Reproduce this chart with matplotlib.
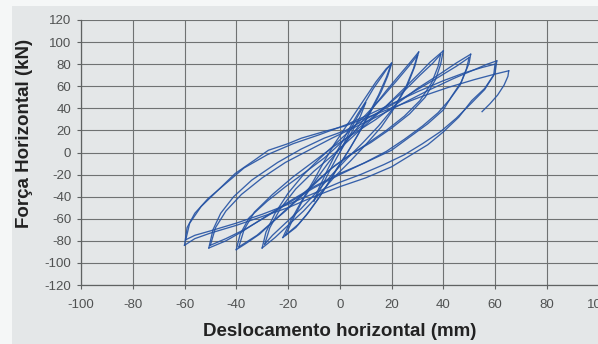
#hysteresis curve - force vs horizontal displacement
import numpy as np
import matplotlib.pyplot as plt
from matplotlib.patches import Rectangle

plt.rcParams['font.family'] = ['Liberation Sans', 'DejaVu Sans']
plt.rcParams['axes.unicode_minus'] = False

#cycle branches (displacement mm, force kN)
start = [(0, 0), (4, 20), (7, 33), (10, 45)]
c10_down = [(10, 45), (8, 33), (5, 20), (2, 8), (-1, -4), (-4, -17), (-7, -31), (-10, -44)]
c10_up = [(-10, -44), (-8, -32), (-5, -17), (-2, -3), (1, 10), (4, 23), (7, 35), (10, 46),
          (13, 58), (16, 68), (18, 75), (20, 81)]
c20a_down = [(20, 81), (18, 68), (15, 52), (11, 34), (7, 16), (3, 0), (-1, -14), (-5, -30),
             (-9, -44), (-13, -57), (-17, -68), (-22, -77)]
c20a_up = [(-22, -77), (-19, -62), (-15, -45), (-10, -25), (-6, -8), (-2, 8), (2, 22), (6, 36),
           (10, 50), (14, 64), (18, 76), (20, 80)]
c20b_down = [(20, 80), (18.5, 69), (16, 55), (12, 37), (8, 20), (4, 4), (0, -11), (-4, -26),
             (-8, -41), (-12, -54), (-16, -65), (-21, -75)]
c30a_load = [(-21, -75), (-18, -60), (-14, -42), (-9, -24), (-4, -8), (1, 6), (6, 20), (12, 38),
             (18, 56), (23, 70), (27, 81), (30.5, 91)]
c30a_down = [(30.5, 91), (29, 78), (26, 60), (21, 40), (16, 23), (10, 7), (4, -8), (-2, -22),
             (-8, -38), (-14, -53), (-20, -66), (-25, -77), (-30, -86.5)]
c30a_up = [(-30, -86.5), (-28.5, -72), (-25, -55), (-20, -37), (-14, -20), (-8, -6), (-2, 7),
           (4, 20), (10, 34), (16, 49), (22, 65), (27, 79), (30, 88)]
c30b_down = [(30, 88), (28.5, 76), (25.5, 59), (21, 41), (15, 24), (9, 9), (3, -5), (-3, -20),
             (-9, -36), (-15, -51), (-21, -64), (-26, -75), (-29, -83)]
c40a_load = [(-29, -83), (-27, -68), (-23, -51), (-17, -33), (-10, -17), (-3, -3), (3, 10),
             (10, 25), (17, 40), (24, 56), (30, 70), (35, 82), (40, 92)]
c40a_down = [(40, 92), (39, 80), (37, 66), (33, 50), (27, 35), (20, 22), (12, 9), (4, -2),
             (-2, -12), (-8, -24), (-14, -37), (-20, -50), (-26, -63), (-31, -74), (-36, -82),
             (-40, -88)]
c40a_up = [(-40, -88), (-38.5, -74), (-35, -59), (-28, -44), (-21, -31), (-14, -19), (-6, -5),
           (2, 12), (10, 27), (18, 42), (25, 56), (31, 70), (36, 81), (39, 89)]
c40b_down = [(39, 89), (38, 78), (35.5, 63), (31, 47), (25, 33), (18, 20), (10, 7), (3, -4),
             (-3, -14), (-9, -27), (-15, -40), (-21, -53), (-27, -65), (-32, -75), (-36, -81),
             (-39, -85.5)]
c50a_load = [(-39, -85.5), (-37, -70), (-33, -54), (-26, -38), (-18, -22), (-10, -8), (-2, 6),
             (6, 18), (14, 30), (22, 44), (30, 58), (38, 70), (45, 81), (50.6, 89)]
c50a_down = [(50.6, 89), (50, 81), (47, 64), (43, 50), (40, 38.5), (34, 26), (27, 14), (20, 2),
             (10, -9), (0, -19), (-10, -31), (-20, -45), (-30, -60), (-38, -72), (-44, -80),
             (-50.6, -86.5)]
c50a_up = [(-50.6, -86.5), (-49, -70), (-46, -55), (-41, -40), (-34, -25), (-24, -9), (-15, 3),
           (-6, 13), (2.3, 20), (10, 30), (20, 43), (30, 57), (38, 68), (45, 78), (50, 86)]
c50b_down = [(50, 86), (49, 76), (46.5, 61), (42.5, 48), (38, 36), (32, 24), (25, 12), (18, 1),
             (9, -10), (0, -20), (-10, -32), (-20, -46), (-29, -59), (-37, -70), (-44, -78),
             (-50, -84)]
c60a_load = [(-50, -84), (-48, -68), (-44, -53), (-38, -38), (-30, -23), (-21, -9), (-12, 2),
             (-3, 13), (5, 22), (14, 32), (24, 44), (34, 56), (44, 67), (52, 75), (57, 80),
             (60.7, 83)]
c60a_down = [(60.7, 83), (60, 72), (56, 58), (51, 47), (46, 32), (40, 18.6), (34, 7), (27, -3),
             (20, -13), (10, -23), (0, -31), (-10, -40), (-20, -50), (-30, -58), (-40, -66),
             (-50, -73), (-56, -78), (-60, -84)]
c60a_up = [(-60, -84), (-59, -68), (-56, -55), (-51, -42), (-44, -28), (-37, -14), (-28, -2),
           (-18, 8), (-8, 16), (2.3, 25), (10, 33), (20, 44), (30, 55), (40, 65), (48, 72),
           (55, 77), (60, 80)]
c60b_down = [(60, 80), (59.5, 70), (56, 57), (51, 45), (45, 31), (39, 19), (32, 8), (25, -2),
             (17, -11), (8, -20), (0, -27), (-10, -37), (-20, -47), (-30, -56), (-40, -64),
             (-50, -71), (-56, -75), (-59.5, -79)]
final_up = [(-59.5, -79), (-58, -64), (-53.6, -49), (-47, -34), (-40.4, -19), (-33, -7),
            (-27.6, 2), (-20, 8), (-14.8, 13), (-6, 19), (2, 24), (12, 33), (22, 42), (32, 51),
            (42, 59), (52, 66), (60, 71), (65.3, 74)]
tail = [(65.3, 74), (65, 69), (63.5, 61), (61, 52), (58, 44), (55, 37)]

branches = [start, c10_down, c10_up, c20a_down, c20a_up, c20b_down, c30a_load, c30a_down,
            c30a_up, c30b_down, c40a_load, c40a_down, c40a_up, c40b_down, c50a_load,
            c50a_down, c50a_up, c50b_down, c60a_load, c60a_down, c60a_up, c60b_down,
            final_up, tail]

xticks = list(range(-100, 101, 20))
yticks = list(range(-120, 121, 20))

fig = plt.figure(figsize=(5.98, 3.44), dpi=100)
fig.patch.set_facecolor('#f5f7f7')
#grey paper area behind the chart
fig.patches.append(Rectangle((12 / 598, 0), 1, 338 / 344, transform=fig.transFigure,
                             facecolor='#e4e7e8', edgecolor='none', zorder=-5))

ax = fig.add_axes([81 / 598, 59 / 344, 517.5 / 598, 265 / 344])
ax.set_facecolor('#e4e7e8')

for b in branches:
    pts = np.array(b)
    ax.plot(pts[:, 0], pts[:, 1], color='#2452a3', lw=0.95, alpha=0.9, zorder=3)

ax.set_xlim(-100, 100)
ax.set_ylim(-120, 120)
ax.set_xticks(xticks)
ax.set_yticks(yticks)
ax.grid(True, color='#6f7272', lw=0.8)
ax.set_axisbelow(True)
for s in ['top', 'right']:
    ax.spines[s].set_visible(False)
for s in ['left', 'bottom']:
    ax.spines[s].set_color('#5f6262')
    ax.spines[s].set_linewidth(0.9)
ax.tick_params(axis='both', colors='#5f6262', length=3, width=0.8, labelsize=9.5,
               labelcolor='#505252')
ax.tick_params(axis='x', pad=7)
ax.tick_params(axis='y', pad=4)

fig.text(25 / 598, 1 - 133 / 344, 'Força Horizontal (kN)', rotation=90, ha='center',
         va='center', fontsize=13.5, fontweight='bold', color='#222222')
fig.text(340 / 598, 1 - 332 / 344, 'Deslocamento horizontal (mm)', ha='center',
         va='center', fontsize=13.5, fontweight='bold', color='#222222')

plt.savefig('out.png', dpi=100, facecolor=fig.get_facecolor())
